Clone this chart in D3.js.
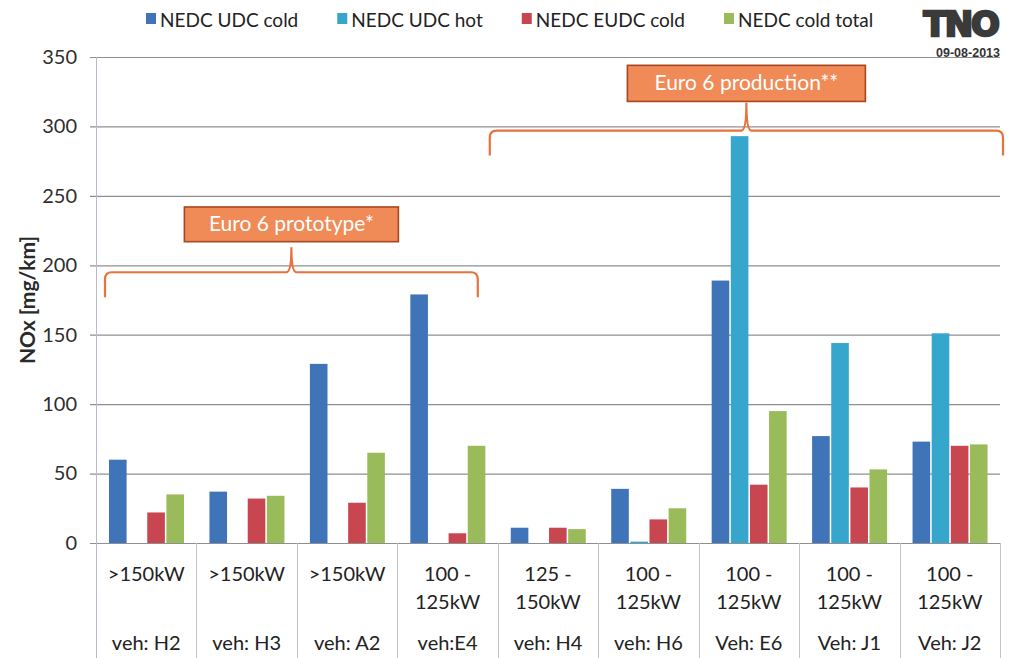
<!DOCTYPE html>
<html>
<head>
<meta charset="utf-8">
<script src="https://cdn.jsdelivr.net/npm/d3@7"></script>
<style>
  body { margin: 0; background: #fff; }
  svg { display: block; font-family: Lato, "Open Sans", sans-serif; }
</style>
</head>
<body>
<svg id="chart" width="1011" height="658"></svg>
<script>
// data
const vehicles = ["H2", "H3", "A2", "E4", "H4", "H6", "E6", "J1", "J2"];
const powerLabels = [[">150kW"], [">150kW"], [">150kW"], ["100 -", "125kW"], ["125 -", "150kW"],
                     ["100 -", "125kW"], ["100 -", "125kW"], ["100 -", "125kW"], ["100 -", "125kW"]];
const vehLabels = ["veh: H2", "veh: H3", "veh: A2", "veh:E4", "veh: H4", "veh: H6", "Veh: E6", "Veh: J1", "Veh: J2"];
const seriesNames = ["NEDC UDC cold", "NEDC UDC hot", "NEDC EUDC cold", "NEDC cold total"];
const udcCold   = [60, 37, 129, 179, 11, 39, 189, 77, 73];
const udcHot    = [0, 0, 0, 0, 0, 1, 293, 144, 151];
const eudcCold  = [22, 32, 29, 7, 11, 17, 42, 40, 70];
const coldTotal = [35, 34, 65, 70, 10, 25, 95, 53, 71];
const yTicks = [0, 50, 100, 150, 200, 250, 300, 350];
const groups = [
  { label: "Euro 6 prototype*", first: 0, last: 3 },
  { label: "Euro 6 production**", first: 4, last: 8 }
];

const colors = ["#3f74b8", "#36a6cc", "#c8464f", "#9abb5a"];
const series = [udcCold, udcHot, eudcCold, coldTotal];

var svg = d3.select("#chart");

var x = d3.scaleBand().domain(vehicles).range([96, 1000]).padding(0);
var xs = d3.scaleBand().domain(d3.range(4)).range([13, 88]).paddingInner(0.08);
var y = d3.scaleLinear().domain([0, 350]).range([543, 57]);

// grid + y ticks
var yAxis = svg.append("g")
    .attr("transform", "translate(1000,0)")
    .call(d3.axisLeft(y).tickValues(yTicks).tickSize(910).tickSizeOuter(0).tickPadding(13));
yAxis.select(".domain").remove();
yAxis.selectAll(".tick line").attr("stroke", "#8f8f8f").attr("stroke-width", 1.2);
yAxis.selectAll(".tick text")
    .attr("font-size", 20).attr("fill", "#2e2e2e")
    .style("font-family", "Lato, sans-serif");

// left axis and category separators in the label area
svg.append("line")
    .attr("x1", 96.5).attr("x2", 96.5).attr("y1", 57).attr("y2", 658)
    .attr("stroke", "#b9b9c9").attr("stroke-width", 1);
svg.append("g").selectAll("line")
    .data(vehicles.slice(1).concat(["end"]))
    .enter().append("line")
    .attr("x1", (d, i) => Math.round(96 + (i + 1) * x.step()) + 0.5)
    .attr("x2", (d, i) => Math.round(96 + (i + 1) * x.step()) + 0.5)
    .attr("y1", 543).attr("y2", 658)
    .attr("stroke", "#c4c4c4").attr("stroke-width", 1);

// bars
var barGroups = svg.append("g").selectAll("g")
    .data(vehicles)
    .enter().append("g")
    .attr("transform", d => "translate(" + x(d) + ",0)");

barGroups.selectAll("rect")
    .data((d, i) => series.map((s, k) => ({ k: k, v: s[i] })))
    .enter().append("rect")
    .attr("x", d => xs(d.k))
    .attr("width", xs.bandwidth())
    .attr("y", d => y(d.v))
    .attr("height", d => y(0) - y(d.v))
    .attr("fill", d => colors[d.k]);

// x labels
var labels = svg.append("g").attr("font-size", 20).attr("fill", "#222").attr("text-anchor", "middle");
vehicles.forEach(function (v, i) {
  var cx = x(v) + x.bandwidth() / 2;
  powerLabels[i].forEach(function (t, j) {
    labels.append("text").attr("x", cx).attr("y", 581 + j * 28).text(t);
  });
  labels.append("text").attr("x", cx).attr("y", 650).text(vehLabels[i]);
});

// y title
svg.append("text")
    .attr("transform", "translate(35,300) rotate(-90)")
    .attr("text-anchor", "middle")
    .attr("font-size", 21).attr("font-weight", "bold").attr("fill", "#2a2a2a")
    .text("NOx [mg/km]");

// legend
var lx = 146;
var legend = svg.append("g");
seriesNames.forEach(function (name, k) {
  legend.append("rect").attr("x", lx).attr("y", 13).attr("width", 10).attr("height", 11).attr("fill", colors[k]);
  var t = legend.append("text").attr("x", lx + 14).attr("y", 27)
      .attr("font-size", 19).attr("fill", "#222").text(name);
  lx += 14 + t.node().getComputedTextLength() + 39;
});

// TNO mark
svg.append("text")
    .attr("x", 998).attr("y", 36).attr("text-anchor", "end")
    .attr("font-size", 34).attr("font-weight", "bold").attr("letter-spacing", -2)
    .attr("fill", "#3a3a3a").attr("stroke", "#3a3a3a").attr("stroke-width", 2.4)
    .style("font-family", "'DejaVu Sans', sans-serif")
    .text("TNO");
svg.append("text")
    .attr("x", 1000).attr("y", 57).attr("text-anchor", "end")
    .attr("font-size", 12.5).attr("font-weight", "bold").attr("fill", "#333")
    .style("font-family", "'Liberation Sans', sans-serif")
    .text("09-08-2013");

// braces with labels
function brace(x0, x1, xp, yH, yTip, yPeak) {
  return "M" + x0 + "," + yTip +
    " L" + x0 + "," + (yH + 7) +
    " Q" + x0 + "," + yH + " " + (x0 + 7) + "," + yH +
    " L" + (xp - 5) + "," + yH +
    " Q" + xp + "," + yH + " " + xp + "," + yPeak +
    " Q" + xp + "," + yH + " " + (xp + 5) + "," + yH +
    " L" + (x1 - 7) + "," + yH +
    " Q" + x1 + "," + yH + " " + x1 + "," + (yH + 7) +
    " L" + x1 + "," + yTip;
}

var braceSpecs = [
  { x0: x(vehicles[0]) + 9, x1: x(vehicles[3]) + x.bandwidth() - 20, level: 195, tip: 177, peak: 213, boxTop: 242, boxBottom: 217, boxW: 214 },
  { x0: x(vehicles[4]) - 8, x1: x(vehicles[8]) + x.bandwidth() + 3, level: 297, tip: 279, peak: 317, boxTop: 344, boxBottom: 318, boxW: 238 }
];

var ann = svg.append("g");
groups.forEach(function (g, i) {
  var s = braceSpecs[i];
  var xp = (s.x0 + s.x1) / 2;
  ann.append("path")
      .attr("d", brace(s.x0, s.x1, xp, y(s.level), y(s.tip), y(s.peak)))
      .attr("fill", "none").attr("stroke", "#e9713c").attr("stroke-width", 2.2);
  ann.append("rect")
      .attr("x", xp - s.boxW / 2).attr("width", s.boxW)
      .attr("y", y(s.boxTop)).attr("height", y(s.boxBottom) - y(s.boxTop))
      .attr("fill", "#f08a57").attr("stroke", "#a8471f").attr("stroke-width", 1.6);
  ann.append("text")
      .attr("x", xp).attr("y", (y(s.boxTop) + y(s.boxBottom)) / 2 + 7)
      .attr("text-anchor", "middle").attr("font-size", 21).attr("fill", "#fff")
      .text(g.label);
});
</script>
</body>
</html>
